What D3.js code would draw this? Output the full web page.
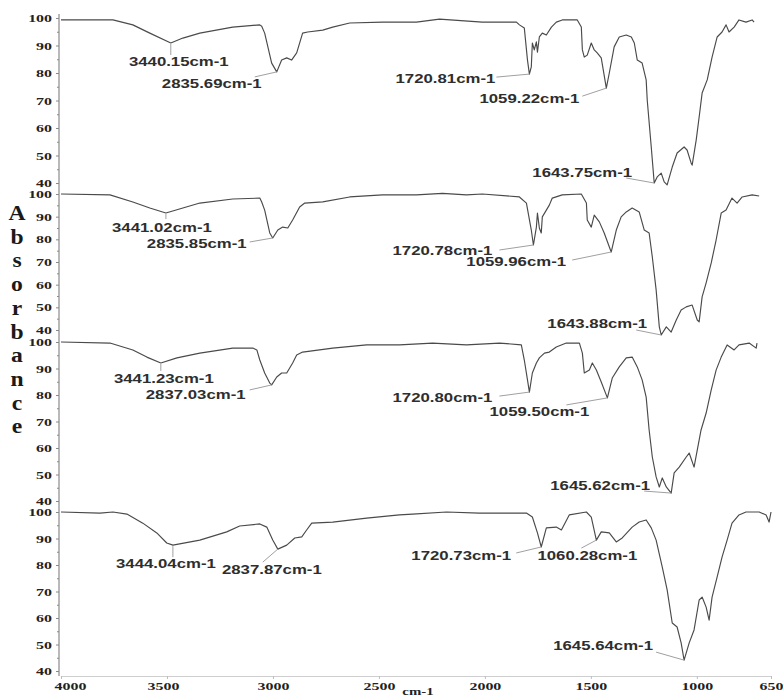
<!DOCTYPE html>
<html>
<head>
<meta charset="utf-8">
<script src="https://cdn.jsdelivr.net/npm/d3@7"></script>
<style>
  body { margin: 0; background: #fff; }
  svg { display: block; }
</style>
</head>
<body>
<svg id="chart" width="783" height="698"></svg>
<script>
// ---- Axis ticks -------------------------------------------------------
const wavenumberTicks = [4000, 3500, 3000, 2500, 2000, 1500, 1000, 650];
const absorbanceTicks = [40, 50, 60, 70, 80, 90, 100];
const absorbanceMinorTicks = [45, 55, 65, 75, 85, 95];

// ---- Spectra: [wavenumber (cm-1), value] ------------------------------
const spectrumA = [
  [4000,99.3],[3755,99.3],[3661,97.5],[3581,94.5],[3482,90.9],[3425,92.7],[3345,94.5],[3190,96.7],
  [3062,97.5],[3053,97.0],[3039,94.5],[3006,83.6],[2982,80.4],[2959,84.7],[2935,85.5],[2912,84.7],
  [2888,87.3],[2860,94.5],[2836,94.9],[2765,95.6],[2718,96.7],[2638,98.2],[2483,98.5],[2323,98.5],
  [2214,99.6],[2012,98.5],[1851,98.5],[1837,97.5],[1814,96.4],[1799,84.7],[1790,79.6],[1781,82.2],
  [1776,90.9],[1767,88.4],[1757,91.3],[1752,87.6],[1743,93.1],[1729,94.5],[1710,93.8],[1686,96.7],
  [1663,98.5],[1635,99.3],[1564,99.3],[1545,96.7],[1540,88.4],[1531,85.8],[1517,86.5],[1498,90.9],
  [1484,88.4],[1470,87.3],[1451,85.5],[1427,74.5],[1413,80.0],[1390,89.5],[1366,93.1],[1333,93.8],
  [1309,93.1],[1295,90.9],[1281,84.7],[1258,83.6],[1239,77.5],[1234,70.2],[1215,53.1],[1201,40.0],
  [1187,42.2],[1168,43.6],[1154,40.4],[1140,39.3],[1116,45.8],[1093,50.9],[1060,53.1],[1046,52.0],
  [1027,47.3],[1022,46.5],[1003,55.6],[989,64.0],[975,72.7],[951,77.5],[928,85.8],[904,93.1],
  [881,94.9],[862,97.5],[848,94.9],[824,96.7],[801,99.3],[768,98.5],[739,99.3],[730,98.5]
];
const spectrumB = [
  [4000,100],[3769,99.6],[3661,96.5],[3581,93.8],[3505,91.6],[3425,93.8],[3345,96.0],[3190,97.8],
  [3062,98.2],[3053,96.5],[3039,92.9],[3015,82.8],[3001,80.6],[2977,84.1],[2954,85.4],[2930,85.0],
  [2907,88.5],[2874,94.3],[2850,96.0],[2765,96.5],[2638,98.7],[2483,99.6],[2323,99.6],[2200,100.3],
  [2087,99.6],[2012,100],[1837,98.7],[1804,96.0],[1781,84.1],[1771,77.5],[1757,85.4],[1752,91.6],
  [1743,85.0],[1734,82.8],[1729,89.9],[1710,92.9],[1696,95.1],[1682,98.2],[1635,99.6],[1545,100],
  [1521,96.0],[1517,88.5],[1498,85.4],[1484,90.7],[1460,87.7],[1437,82.8],[1404,74.4],[1380,84.1],
  [1357,89.9],[1333,92.1],[1305,93.8],[1272,92.1],[1248,84.1],[1225,82.8],[1210,72.2],[1192,57.7],
  [1177,41.4],[1168,37.8],[1144,41.4],[1121,39.1],[1097,44.4],[1074,48.8],[1050,50.2],[1022,51.0],
  [998,44.4],[989,43.6],[975,54.6],[956,60.8],[932,69.6],[909,79.7],[885,91.6],[862,92.9],
  [834,98.2],[810,96.0],[786,98.7],[739,99.6],[706,99.1]
];
const spectrumC = [
  [4000,100],[3769,99.6],[3661,97.0],[3595,94.3],[3529,92.1],[3453,94.0],[3345,95.8],[3190,97.7],
  [3095,97.7],[3076,97.0],[3062,93.2],[3039,88.3],[3015,84.5],[3006,83.8],[2982,86.8],[2959,88.3],
  [2935,88.3],[2907,92.1],[2888,95.1],[2860,96.2],[2718,97.7],[2558,98.9],[2403,98.9],[2247,99.6],
  [2087,98.9],[1931,99.6],[1828,98.9],[1814,93.2],[1799,85.7],[1790,81.1],[1776,88.3],[1757,92.1],
  [1743,94.0],[1719,95.8],[1696,96.2],[1663,98.1],[1616,99.6],[1554,99.6],[1540,95.8],[1531,88.3],
  [1507,89.4],[1493,92.1],[1474,89.4],[1451,84.9],[1422,78.9],[1399,86.4],[1366,90.6],[1333,94.0],
  [1305,94.3],[1281,90.6],[1258,85.7],[1239,79.2],[1225,66.8],[1210,56.6],[1192,49.1],[1177,45.3],
  [1163,48.7],[1144,45.3],[1121,43.0],[1107,50.6],[1083,52.8],[1050,56.6],[1036,58.1],[1013,52.8],
  [998,59.2],[980,66.8],[956,73.2],[932,81.9],[909,89.4],[885,94.3],[857,98.9],[824,97.0],
  [801,98.9],[753,99.6],[720,97.7],[716,99.6]
];
const spectrumD = [
  [4000,100],[3816,99.6],[3755,100],[3689,99.2],[3614,95.8],[3548,92.1],[3501,88.3],[3472,87.5],
  [3345,89.4],[3218,92.5],[3157,94.7],[3062,95.5],[3029,94.3],[3001,89.4],[2977,86.0],[2935,87.5],
  [2897,90.2],[2864,90.6],[2841,93.2],[2817,95.8],[2718,96.2],[2558,97.7],[2403,98.9],[2341,99.2],
  [2181,100],[2026,99.6],[1804,99.6],[1776,98.1],[1752,92.1],[1734,86.8],[1710,94.0],[1663,94.3],
  [1639,93.2],[1602,98.9],[1521,100],[1498,98.1],[1474,89.4],[1451,92.5],[1413,92.1],[1380,88.7],
  [1352,90.2],[1305,94.3],[1272,96.2],[1239,97.0],[1215,94.0],[1192,89.4],[1163,79.2],[1140,70.6],
  [1116,58.1],[1093,56.6],[1074,50.6],[1060,44.1],[1036,50.6],[1013,55.5],[989,66.8],[975,67.9],
  [956,64.1],[942,59.2],[928,67.9],[904,75.5],[881,83.0],[857,89.4],[834,95.8],[801,98.9],
  [768,100],[706,100],[673,98.9],[659,96.2],[650,100]
];

// ---- Peak annotations --------------------------------------------------
const peakWnA = [3482, 2982, 1790, 1427, 1201];
const peakTextA = ["3440.15cm-1", "2835.69cm-1", "1720.81cm-1", "1059.22cm-1", "1643.75cm-1"];
const peakWnB = [3505, 3001, 1771, 1404, 1168];
const peakTextB = ["3441.02cm-1", "2835.85cm-1", "1720.78cm-1", "1059.96cm-1", "1643.88cm-1"];
const peakWnC = [3529, 3006, 1790, 1422, 1121];
const peakTextC = ["3441.23cm-1", "2837.03cm-1", "1720.80cm-1", "1059.50cm-1", "1645.62cm-1"];
const peakWnD = [3472, 2977, 1734, 1474, 1060];
const peakTextD = ["3444.04cm-1", "2837.87cm-1", "1720.73cm-1", "1060.28cm-1", "1645.64cm-1"];

const axisLetters = "Absorbance".split("");
const xAxisTitle = "cm-1";

// ---- Layout -------------------------------------------------------------
const W = 783, H = 698;
const axisX = 59;
const xAxisY = 676;
// label placement relative to its peak: [text dx, text dy, leader dx, leader dy]
const panels = [
  { data: spectrumA, peaks: peakWnA, texts: peakTextA, top: 18, bottom: 183,
    offsets: [[8,19,0,12],[-65,12,-22,5],[-84,5,-33,3],[-77,11,-24,8],[-72,-10,-28,-5]] },
  { data: spectrumB, peaks: peakWnB, texts: peakTextB, top: 194, bottom: 330,
    offsets: [[-4,15,0,6],[-76,6,-23,4],[-91,6,-34,5],[-95,10,-39,8],[-64,-11,-25,-5]] },
  { data: spectrumC, peaks: peakWnC, texts: peakTextC, top: 342, bottom: 501,
    offsets: [[3,16,0,8],[-76,10,-22,5],[-87,6,-30,4],[-68,14,-41,7],[-71,-7,-27,-2]] },
  { data: spectrumD, peaks: peakWnD, texts: peakTextD, top: 512, bottom: 671,
    offsets: [[-7,19,0,12],[-6,21,-15,13],[-80,9,-25,6],[-9,16,-15,8],[-81,-14,-28,-8]] }
];
const xTickNudge = { 4000: 9, 3500: -4 };

const serif = "'Liberation Serif', 'Times New Roman', serif";
const sans = "'Liberation Sans', Arial, sans-serif";

const svg = d3.select("#chart");
svg.append("rect").attr("width", W).attr("height", H).attr("fill", "#fff");

const x = d3.scaleLinear().domain([4000, 650]).range([61, 771]);

// continuous left axis line shared by all four panels
svg.append("line")
  .attr("x1", axisX).attr("x2", axisX)
  .attr("y1", 14).attr("y2", xAxisY)
  .attr("stroke", "#8a8a8a").attr("stroke-width", 1.2);

panels.forEach(p => {
  const y = d3.scaleLinear().domain([40, 100]).range([p.bottom, p.top]);

  // minor ticks
  const minor = svg.append("g").attr("transform", `translate(${axisX},0)`)
    .call(d3.axisLeft(y).tickValues(absorbanceMinorTicks).tickSize(2).tickFormat(""));
  minor.select(".domain").remove();
  minor.selectAll("line").attr("stroke", "#8a8a8a");

  // major ticks + labels
  const g = svg.append("g").attr("transform", `translate(${axisX},0)`)
    .call(d3.axisLeft(y).tickValues(absorbanceTicks).tickSize(3).tickPadding(4));
  g.attr("font-family", serif);
  g.select(".domain").remove();
  g.selectAll("line").attr("stroke", "#8a8a8a");
  g.selectAll("text")
    .attr("x", -4.8)
    .attr("transform", "scale(1.45,1)")
    .attr("font-family", serif)
    .attr("font-weight", "bold")
    .attr("font-size", 11)
    .attr("fill", "#222");

  // spectrum trace
  const line = d3.line().x(d => x(d[0])).y(d => y(d[1]));
  svg.append("path")
    .datum(p.data)
    .attr("d", line)
    .attr("fill", "none")
    .attr("stroke", "#4a4a4a")
    .attr("stroke-width", 1.15)
    .attr("stroke-linejoin", "round");

  // peak annotations
  const lookup = new Map(p.data.map(d => [d[0], d[1]]));
  p.peaks.forEach((wn, i) => {
    const px = x(wn), py = y(lookup.get(wn));
    const [tx, ty, lx, ly] = p.offsets[i];
    svg.append("line")
      .attr("x1", px + lx).attr("y1", py + ly)
      .attr("x2", px).attr("y2", py + (lx === 0 ? 1 : 0))
      .attr("stroke", "#a0a0a0").attr("stroke-width", 1);
    svg.append("text")
      .attr("transform", `translate(${px + tx},${py + ty}) scale(1.4,1)`)
      .attr("text-anchor", "middle")
      .attr("dominant-baseline", "central")
      .attr("font-family", sans)
      .attr("font-weight", "bold")
      .attr("font-size", 12)
      .attr("fill", "#2e2e2e")
      .text(p.texts[i]);
  });
});

// bottom wavenumber axis
const xg = svg.append("g").attr("transform", `translate(0,${xAxisY})`)
  .call(d3.axisBottom(x).tickValues(wavenumberTicks).tickSize(3).tickPadding(3)
    .tickFormat(d3.format("d")));
xg.attr("font-family", serif);
xg.select(".domain").attr("stroke", "#cfcfcf");
xg.selectAll("line").attr("stroke", "#bdbdbd");
xg.selectAll("text")
  .attr("transform", d => `translate(${xTickNudge[d] || 0},0) scale(1.45,1)`)
  .attr("font-family", serif)
  .attr("font-weight", "bold")
  .attr("font-size", 11)
  .attr("fill", "#222");

// x axis title
svg.append("text")
  .attr("transform", `translate(418,694.5) scale(1.35,1)`)
  .attr("text-anchor", "middle")
  .attr("font-family", serif)
  .attr("font-weight", "bold")
  .attr("font-size", 11)
  .attr("fill", "#222")
  .text(xAxisTitle);

// stacked y axis title
svg.selectAll("text.ytitle")
  .data(axisLetters)
  .enter().append("text")
  .attr("class", "ytitle")
  .attr("transform", (d, i) => `translate(17,${220 + i * 23.7}) scale(1.18,1)`)
  .attr("text-anchor", "middle")
  .attr("font-family", serif)
  .attr("font-weight", "bold")
  .attr("font-size", 20)
  .attr("fill", "#1a1a1a")
  .text(d => d);
</script>
</body>
</html>
